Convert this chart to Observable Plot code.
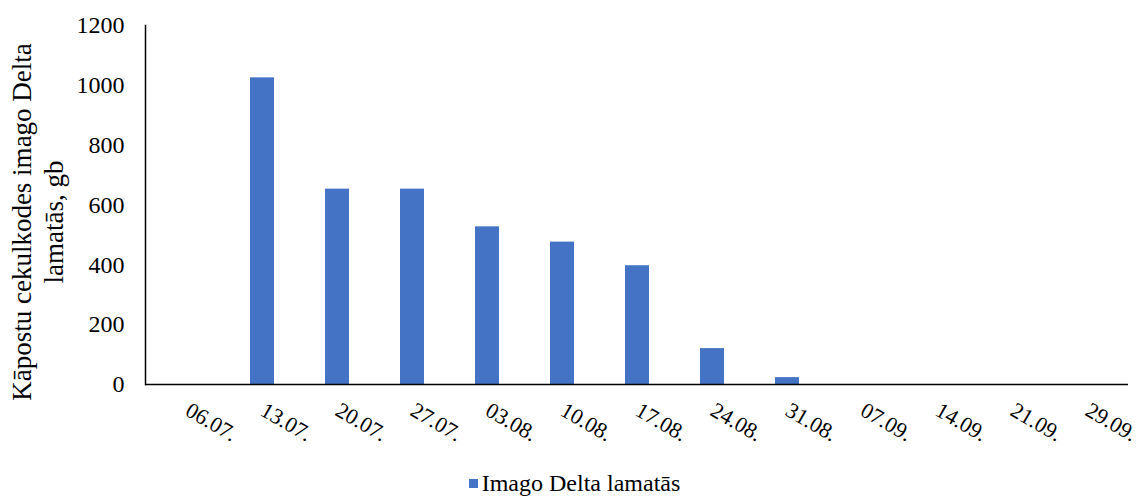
<!DOCTYPE html>
<html>
<head>
<meta charset="utf-8">
<script src="https://cdn.jsdelivr.net/npm/d3@7"></script>
<script src="https://cdn.jsdelivr.net/npm/@observablehq/plot@0.6"></script>
<style>
  html, body { margin: 0; padding: 0; background: #fff; }
  #chart { width: 1147px; }
  .legend { width: 1147px; height: 27px; display: flex; justify-content: center; align-items: center;
    font-family: "Liberation Serif", serif; font-size: 24px; color: #000; }
  .legend .sw { width: 9px; height: 9px; background: #4472C4; margin-right: 4px; margin-left: 2px; }
</style>
</head>
<body>
<div id="chart"></div>
<script>
const categories = ["06.07.", "13.07.", "20.07.", "27.07.", "03.08.", "10.08.", "17.08.", "24.08.", "31.08.", "07.09.", "14.09.", "21.09.", "29.09."];
const values = [0, 1025, 653, 653, 527, 476, 397, 120, 23, 0, 0, 0, 0];
const yTicks = [0, 200, 400, 600, 800, 1000, 1200];
const seriesName = "Imago Delta lamatās";
const yTitle = "Kāpostu cekulkodes imago Delta\nlamatās, gb";

const data = categories.map((c, i) => ({date: c, value: values[i]}));

const chart = Plot.plot({
  width: 1147,
  height: 470,
  marginLeft: 145,
  marginRight: 19,
  marginTop: 25,
  marginBottom: 86,
  style: {fontFamily: "'Liberation Serif', serif", fontSize: "22px", color: "black", background: "white"},
  x: {domain: categories, paddingInner: 0.68, paddingOuter: 0.34, label: null},
  y: {domain: [0, 1200], ticks: yTicks, label: null},
  marks: [
    Plot.barY(data, {x: "date", y: "value", fill: "#4472C4"}),
    Plot.axisY({ticks: yTicks, tickFormat: d => String(d), tickSize: 0, tickPadding: 21, label: null, fontSize: 24}),
    Plot.axisX({tickSize: 0, tickRotate: 30, tickPadding: 24, label: null, fontSize: 22}),
    Plot.ruleY([0], {stroke: "black", strokeWidth: 1.5}),
    Plot.frame({anchor: "left", stroke: "black", strokeWidth: 1.5}),
    Plot.text([yTitle], {text: d => d, frameAnchor: "left", textAnchor: "middle", rotate: -90, dx: -109, dy: 17, fontSize: 27, lineHeight: 1.19, fill: "black"})
  ]
});
document.getElementById("chart").appendChild(chart);

const legend = document.createElement("div");
legend.className = "legend";
legend.innerHTML = `<span class="sw"></span><span></span>`;
legend.lastChild.textContent = seriesName;
document.body.appendChild(legend);
</script>
</body>
</html>
